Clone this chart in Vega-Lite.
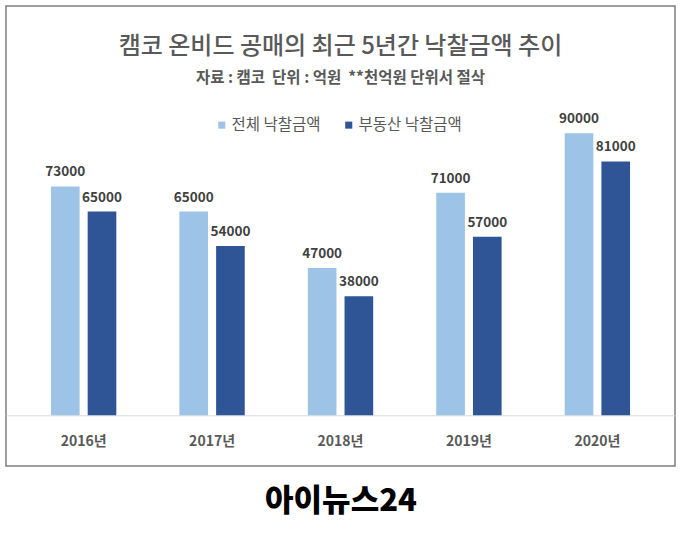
{
  "$schema": "https://vega.github.io/schema/vega-lite/v6.json",
  "width": 669,
  "height": 460,
  "autosize": {"type": "none"},
  "padding": {"left": 6, "top": 6, "right": 5, "bottom": 71},
  "background": "white",
  "config": {
    "font": "Noto Sans CJK KR",
    "view": {"stroke": "#7f7f7f", "strokeWidth": 1.5}
  },
  "title": {
    "text": "캠코 온비드 공매의 최근 5년간 낙찰금액 추이",
    "subtitle": "자료 : 캠코\u00a0\u00a0단위 : 억원\u00a0\u00a0**천억원 단위서 절삭",
    "anchor": "middle",
    "offset": -80,
    "fontSize": 24,
    "fontWeight": 500,
    "color": "#595959",
    "subtitleFontSize": 15.5,
    "subtitleFontWeight": "bold",
    "subtitleColor": "#595959",
    "subtitlePadding": 12
  },
  "data": {
    "values": [
      {"year": "2016년", "series": "전체 낙찰금액", "value": 73000},
      {"year": "2016년", "series": "부동산 낙찰금액", "value": 65000},
      {"year": "2017년", "series": "전체 낙찰금액", "value": 65000},
      {"year": "2017년", "series": "부동산 낙찰금액", "value": 54000},
      {"year": "2018년", "series": "전체 낙찰금액", "value": 47000},
      {"year": "2018년", "series": "부동산 낙찰금액", "value": 38000},
      {"year": "2019년", "series": "전체 낙찰금액", "value": 71000},
      {"year": "2019년", "series": "부동산 낙찰금액", "value": 57000},
      {"year": "2020년", "series": "전체 낙찰금액", "value": 90000},
      {"year": "2020년", "series": "부동산 낙찰금액", "value": 81000}
    ]
  },
  "encoding": {
    "x": {
      "field": "year",
      "type": "nominal",
      "scale": {"paddingInner": 0.491, "paddingOuter": 0.35},
      "axis": {
        "orient": "bottom",
        "offset": -50.7,
        "domain": true,
        "domainColor": "#d9d9d9",
        "domainWidth": 1,
        "ticks": false,
        "grid": false,
        "labelAngle": 0,
        "labelPadding": 19,
        "labelFontSize": 14,
        "labelFontWeight": "bold",
        "labelColor": "#595959",
        "title": "아이뉴스24",
        "titleFontSize": 31,
        "titleFontWeight": 900,
        "titleColor": "#000000",
        "titlePadding": 38
      }
    },
    "xOffset": {
      "field": "series",
      "type": "nominal",
      "sort": ["전체 낙찰금액", "부동산 낙찰금액"],
      "scale": {"paddingInner": 0.22, "paddingOuter": 0}
    },
    "y": {
      "field": "value",
      "type": "quantitative",
      "scale": {"domain": [-16200, 130600], "zero": false, "nice": false},
      "axis": null
    }
  },
  "layer": [
    {
      "mark": {"type": "bar"},
      "encoding": {
        "color": {
          "field": "series",
          "type": "nominal",
          "sort": ["전체 낙찰금액", "부동산 낙찰금액"],
          "scale": {"domain": ["전체 낙찰금액", "부동산 낙찰금액"], "range": ["#9dc3e6", "#2f5597"]},
          "legend": {
            "title": null,
            "orient": "none",
            "legendX": 208,
            "legendY": 111,
            "direction": "horizontal",
            "symbolType": "square",
            "symbolSize": 50,
            "symbolStrokeWidth": 0,
            "labelFontSize": 15.5,
            "labelColor": "#595959",
            "labelOffset": 2,
            "columnPadding": 20
          }
        }
      }
    },
    {
      "mark": {"type": "text", "dy": -14, "baseline": "middle", "fontSize": 13.5, "fontWeight": "bold", "color": "#404040"},
      "encoding": {
        "text": {"field": "value", "type": "quantitative", "format": "d"}
      }
    }
  ]
}
